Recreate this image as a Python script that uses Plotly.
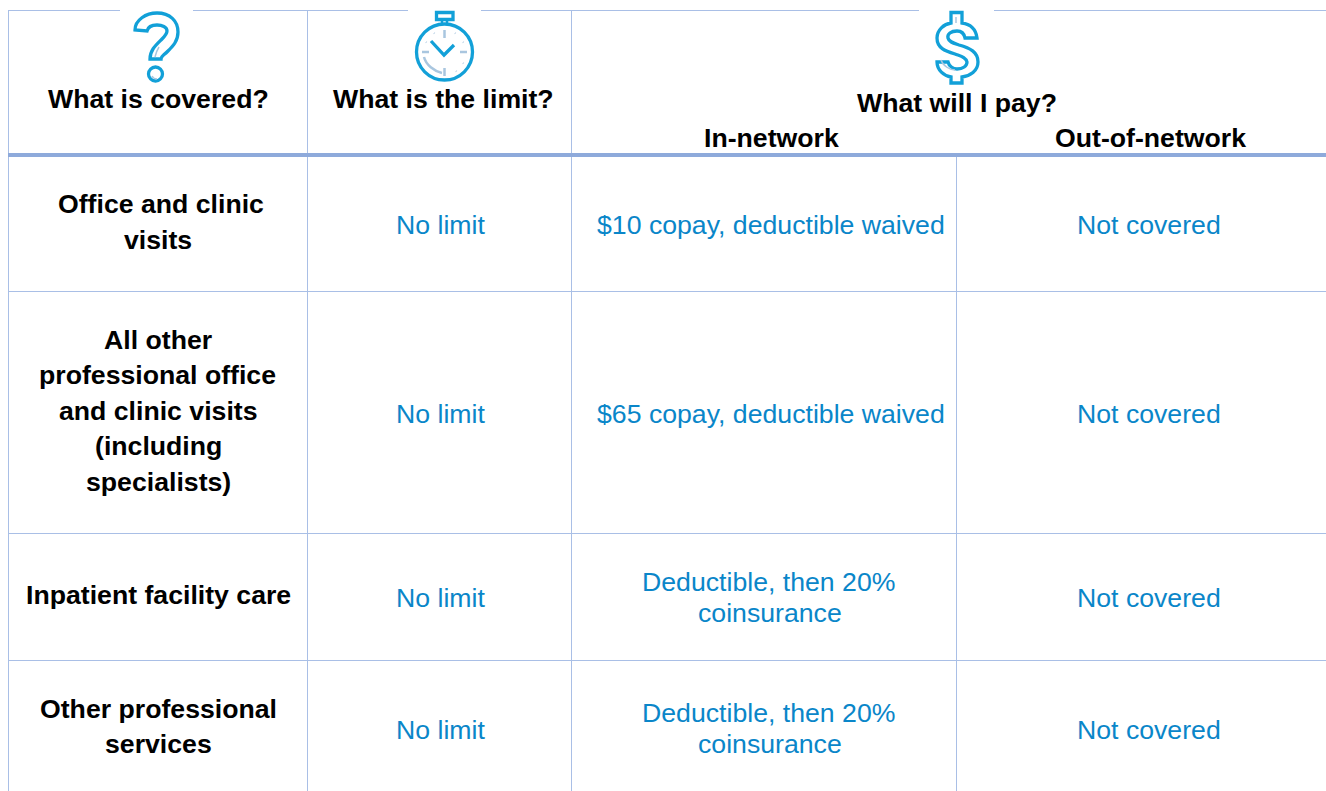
import plotly.graph_objects as go

# ---- table content ----
header_titles = ["What is covered?", "What is the limit?", "What will I pay?"]
subheaders = ["In-network", "Out-of-network"]
covered = [
    ["Office and clinic", "visits"],
    ["All other", "professional office", "and clinic visits", "(including", "specialists)"],
    ["Inpatient facility care"],
    ["Other professional", "services"],
]
limit = ["No limit", "No limit", "No limit", "No limit"]
in_network = [
    ["$10 copay, deductible waived"],
    ["$65 copay, deductible waived"],
    ["Deductible, then 20%", "coinsurance"],
    ["Deductible, then 20%", "coinsurance"],
]
out_network = ["Not covered", "Not covered", "Not covered", "Not covered"]

# ---- layout (pixels) ----
W, H = 1326, 791
FONT = "Liberation Sans"
BLUE = "#0a86c9"
ICON = "#12a0d8"
ICON_LIGHT = "#a9c6df"
THIN = "#a9bfe6"
THICK = "#8eaadb"
col_x = [8.5, 307.5, 571.5, 956.5]
row_y = [155, 291.5, 533.5, 660.5]
top_y = 10.5
top_gaps = [(120, 193), (408, 481), (919, 994)]
cx = [158, 440.5, 770, 1149]
covered_x = [[161, 158], [158, 157.5, 158, 158, 158], [158], [158, 158]]
in_x = [[770.5], [770.5], [768.5, 770], [768.5, 770]]
row_first_y = [[204, 240], [340, 375, 411, 446, 482], [595], [709, 744]]
row_limit_y = [225, 414, 598, 730]
row_in_y = [[225], [414], [582, 613], [713, 744]]
SIZE_B = 26.67
SIZE_R = 26.67

shapes = []
def line(x0, y0, x1, y1, color=THIN, width=1):
    shapes.append(dict(type="line", x0=x0, y0=y0, x1=x1, y1=y1, layer="below",
                       line=dict(color=color, width=width)))

# borders
edges = [8] + [v for g in top_gaps for v in g] + [W]
for a, b in zip(edges[0::2], edges[1::2]):
    line(a, top_y, b, top_y)
for x in col_x[:3]:
    line(x, top_y, x, H)
line(col_x[3], row_y[0], col_x[3], H)
for y in row_y[1:]:
    line(col_x[0], y, W, y)
line(8, row_y[0], W, row_y[0], THICK, 4)

# icons
def path(d, color=ICON, width=3.3):
    shapes.append(dict(type="path", path=d, line=dict(color=color, width=width)))

def circle(x, y, r, color=ICON, width=3.3):
    shapes.append(dict(type="circle", x0=x - r, y0=y - r, x1=x + r, y1=y + r,
                       line=dict(color=color, width=width)))

# question mark
path("M 135 30 C 135 20 146 13 157 13 C 170 13 178 21 178 32 C 178 41 173 46 168 51 "
     "C 163 56 161 56 161 59 L 150 59 C 150 50 156 45 162 39 C 165 36 167 34 167 31 "
     "C 167 27 162 25 157 25 C 152 25 148 27 147 31 Z")
circle(155.5, 74, 7)
path("M 155 57 C 156 53 157 50 159 47", ICON_LIGHT, 1.5)
path("M 152 76 C 153 78 155 79 157 79", ICON_LIGHT, 1.5)

# stopwatch
shapes.append(dict(type="rect", x0=436.5, y0=12.5, x1=453, y1=19.5,
                   line=dict(color=ICON, width=3.3)))
path("M 442 20 L 442 24 M 447 20 L 447 24", ICON, 2.5)
circle(444.5, 52, 28)
for d in ["M 444.5 30 L 444.5 38", "M 444.5 68 L 444.5 76", "M 422 52 L 429 52", "M 460 52 L 467 52",
          "M 424 57 C 426 65 434 71 442 73"]:
    path(d, ICON_LIGHT, 2.5)
for d in ["M 434 33 L 434.5 33.5", "M 455 33 L 455.5 33.5", "M 463 42 L 463.5 42.5",
          "M 463 63 L 463.5 63.5", "M 456 71 L 456.5 71.5", "M 426 42 L 426.5 42.5"]:
    path(d, ICON_LIGHT, 2)
path("M 431 41 L 444 55 L 454 45", ICON, 3.3)

# dollar sign
path("M 951 12.5 L 962 12.5 L 962 23 C 970 24 976 29 977 38 L 965 38 C 964 33 961 31 957 31 "
     "C 951 31 947 34 948 38 C 949 42 953 43 959 45 C 970 48 978 52 978 62 C 978 71 970 76 "
     "962 77 L 962 83 L 951 83 L 951 77 C 944 76 937 70 937 62 L 948 62 C 949 66 953 69 957 69 "
     "C 963 69 967 66 967 62 C 966 57 960 56 955 54 C 945 51 937 48 937 38 C 937 30 944 24 951 23 Z")
path("M 956 17 L 956 23", ICON_LIGHT, 1.5)
path("M 941 60 C 943 66 950 70 955 70", ICON_LIGHT, 1.5)

# text
ann = []
def text(x, y, s, bold=False):
    ann.append(dict(x=x, y=y, text=f"<b>{s}</b>" if bold else s, showarrow=False,
                    xanchor="center", yanchor="middle",
                    font=dict(family=FONT, size=SIZE_B if bold else SIZE_R,
                              color="#000000" if bold else BLUE)))

text(158, 99, header_titles[0], True)
text(443, 99, header_titles[1], True)
text(957, 103, header_titles[2], True)
text(771, 138, subheaders[0], True)
text(1150, 138, subheaders[1], True)
for i in range(4):
    for s, y, x in zip(covered[i], row_first_y[i], covered_x[i]):
        text(x, y, s, True)
    text(cx[1], row_limit_y[i], limit[i])
    for s, y, x in zip(in_network[i], row_in_y[i], in_x[i]):
        text(x, y, s)
    text(cx[3], row_limit_y[i], out_network[i])

fig = go.Figure()
fig.update_layout(
    width=W, height=H, margin=dict(l=0, r=0, t=0, b=0),
    paper_bgcolor="white", plot_bgcolor="white", showlegend=False,
    xaxis=dict(range=[0, W], visible=False, fixedrange=True),
    yaxis=dict(range=[H, 0], visible=False, fixedrange=True),
    shapes=shapes, annotations=ann,
)
fig.write_html(
    "out.html",
    config=dict(displayModeBar=False),
    post_script="document.body.style.margin='0';document.body.style.overflow='hidden';",
)
